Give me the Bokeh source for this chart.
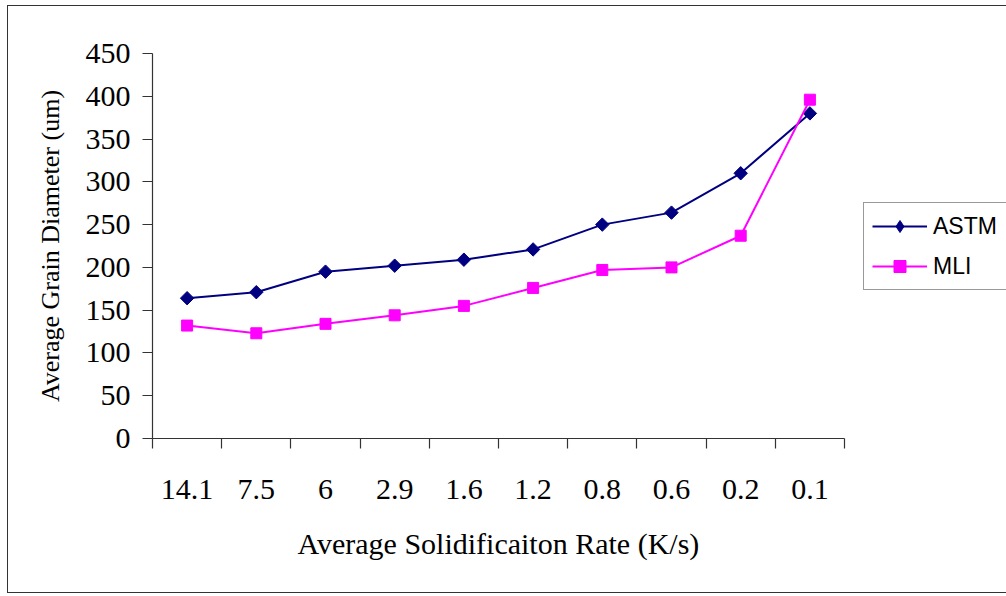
import math
from bokeh.plotting import figure
from bokeh.models import FixedTicker, Legend, LegendItem, Range1d, InlineStyleSheet, Title
from bokeh.embed import file_html
from bokeh.resources import INLINE

rates = ["14.1", "7.5", "6", "2.9", "1.6", "1.2", "0.8", "0.6", "0.2", "0.1"]
astm = [164, 171, 195, 202, 209, 221, 250, 264, 310, 380]
mli = [132, 123, 134, 144, 155, 176, 197, 200, 237, 396]
y_ticks = [0, 50, 100, 150, 200, 250, 300, 350, 400, 450]

n = len(rates)
xs = list(range(1, n + 1))

# frame runs to the right edge so the legend (outside the axes) is not clipped;
# the x axis itself is bounded to the ten categories
cat_px = 69.2
frame_w = 1006 - 152
p = figure(width=1006, height=596, output_backend="svg", toolbar_location=None,
           x_range=Range1d(0.5, 0.5 + frame_w / cat_px), y_range=Range1d(0, 450),
           min_border_left=152, min_border_right=0, min_border_top=53, min_border_bottom=158)
p.xgrid.visible = False
p.ygrid.visible = False
p.outline_line_color = None
p.background_fill_color = "white"
p.border_fill_color = "white"

axis_color = "#333333"
serif = "Liberation Serif"

xaxis = p.xaxis[0]
yaxis = p.yaxis[0]

# X axis: labels at category centers, tick marks at category boundaries
xaxis.bounds = (0.5, n + 0.5)
xaxis.ticker = FixedTicker(ticks=xs, minor_ticks=[x + 0.5 for x in range(0, n + 1)])
xaxis.major_label_overrides = {x: r for x, r in zip(xs, rates)}
xaxis.major_tick_out = 0
xaxis.major_tick_in = 0
xaxis.minor_tick_out = 10
xaxis.minor_tick_in = 0
xaxis.minor_tick_line_color = axis_color
xaxis.minor_tick_line_width = 1.2
xaxis.major_label_standoff = 31

# Y axis
yaxis.ticker = FixedTicker(ticks=y_ticks)
yaxis.major_tick_out = 10
yaxis.major_tick_in = 0
yaxis.minor_tick_line_color = None
yaxis.major_label_standoff = 12
yaxis.axis_label = "Average Grain Diameter (um)"
yaxis.axis_label_standoff = 18
yaxis.axis_label_text_font_size = "26px"

for ax in (xaxis, yaxis):
    ax.axis_line_color = axis_color
    ax.axis_line_width = 1.2
    ax.major_tick_line_color = axis_color
    ax.major_tick_line_width = 1.2
    ax.major_label_text_font = serif
    ax.major_label_text_font_size = "30px"
    ax.major_label_text_color = "black"
    ax.axis_label_text_font = serif
    ax.axis_label_text_font_style = "normal"
    ax.axis_label_text_color = "black"

# x-axis title, centred under the ten categories (not under the wider frame)
xtitle = Title(text="Average Solidificaiton Rate (K/s)", align="left", offset=145,
               standoff=47, text_font=serif, text_font_size="30px",
               text_font_style="normal", text_color="black")
p.add_layout(xtitle, "below")

navy = "#000080"
magenta = "#FF00FF"

l1 = p.line(xs, astm, line_color=navy, line_width=2)
m1 = p.scatter(xs, astm, marker="square", angle=math.pi / 4, size=9.5,
               fill_color=navy, line_color=navy)
l2 = p.line(xs, mli, line_color=magenta, line_width=2)
m2 = p.scatter(xs, mli, marker="square", size=11, fill_color=magenta, line_color=magenta)
# legend-only diamond sample (legend markers ignore the glyph angle); its point lies off the axes
d_leg = p.scatter(x=[-50], y=[-500], marker="diamond", fill_color=navy, line_color=navy)

legend = Legend(items=[LegendItem(label="ASTM", renderers=[l1, d_leg]),
                       LegendItem(label="MLI", renderers=[l2, m2])],
                location=(711, 148))
legend.label_text_font = "Liberation Sans"
legend.label_text_font_size = "23px"
legend.label_text_color = "black"
legend.glyph_width = 55
legend.glyph_height = 30
legend.label_height = 30
legend.label_width = 66
legend.label_standoff = 6
legend.spacing = 10
legend.padding = 8
legend.margin = 0
legend.border_line_color = axis_color
legend.border_line_width = 1.2
legend.background_fill_color = "white"
p.add_layout(legend, "center")

# outer chart-area border (left, top, bottom; right edge runs off the window)
p.stylesheets = [InlineStyleSheet(css="""
:host::after {
  content: "";
  position: absolute;
  left: 7px; top: 5px; right: 0px; bottom: 3px;
  border: 1.5px solid #333333;
  border-right: none;
  pointer-events: none;
  z-index: 10;
}
""")]

open("out.html", "w").write(file_html(p, INLINE))
